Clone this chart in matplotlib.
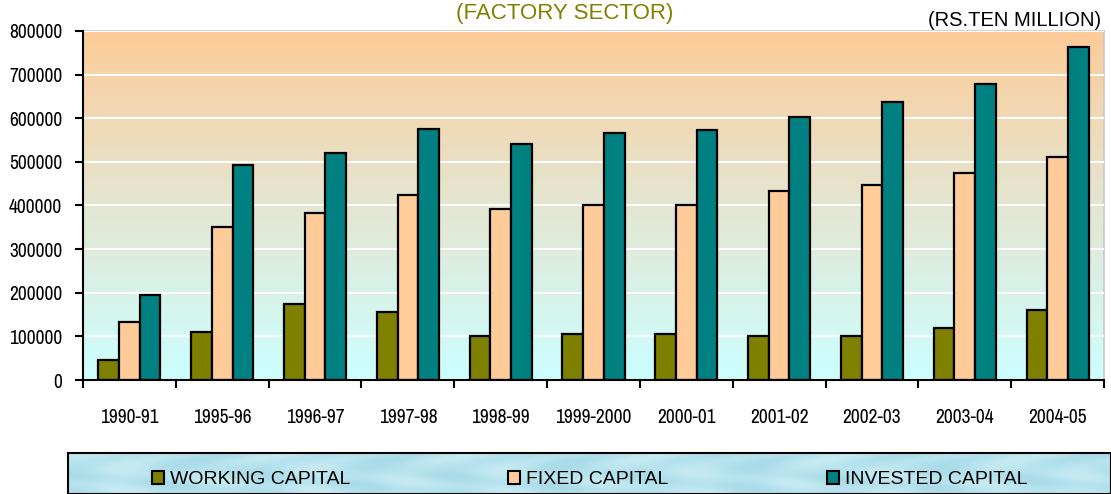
import numpy as np
import matplotlib
matplotlib.use("Agg")
import matplotlib.pyplot as plt
from matplotlib.colors import LinearSegmentedColormap
from matplotlib.patches import Rectangle
from matplotlib.transforms import ScaledTranslation

years = ["1990-91", "1995-96", "1996-97", "1997-98", "1998-99", "1999-2000",
         "2000-01", "2001-02", "2002-03", "2003-04", "2004-05"]
working = [46000, 110000, 175000, 156000, 100000, 105000, 105000, 101000, 100000, 119000, 161000]
fixed = [133000, 350000, 382000, 424000, 392000, 401000, 401000, 433000, 446000, 474000, 511000]
invested = [194000, 492000, 520000, 576000, 540000, 567000, 572000, 604000, 637000, 678000, 763000]
series_names = ["WORKING CAPITAL", "FIXED CAPITAL", "INVESTED CAPITAL"]
colors = ["#808000", "#FFCC99", "#008080"]

narrow = ["Archivo Narrow", "Liberation Sans", "DejaVu Sans"]
arial = ["Liberation Sans", "DejaVu Sans"]

W, H = 1111, 494
fig = plt.figure(figsize=(W / 100, H / 100), dpi=100)
ax = fig.add_axes([83 / W, 1 - 380 / H, (1104 - 83) / W, (380 - 31) / H])

n = len(years)
x = np.arange(n)
w = 0.223

# background gradient, peach at top to pale cyan at bottom
cmap = LinearSegmentedColormap.from_list("bg", ["#CCFFFF", "#E4E6D2", "#FDCB98"])
grad = np.linspace(0, 1, 256).reshape(-1, 1)
ax.imshow(grad, extent=(-0.5, n - 0.5, 0, 800000), origin="lower", aspect="auto",
          cmap=cmap, zorder=0)

for k, vals in enumerate([working, fixed, invested]):
    ax.bar(x + (k - 1) * w, vals, width=w, color=colors[k], edgecolor="black",
           linewidth=1.6, zorder=3, label=series_names[k])

ax.set_xlim(-0.5, n - 0.5)
ax.set_ylim(0, 800000)
ax.set_yticks(np.arange(0, 800001, 100000))
ax.set_yticklabels([str(v) for v in range(0, 800001, 100000)], family=narrow, fontsize=14)
ax.yaxis.grid(True, color="white", linewidth=1.5, zorder=1)
ax.set_axisbelow(False)
shift = ScaledTranslation(0, -4 / 100, fig.dpi_scale_trans)
for lab in ax.get_yticklabels():
    lab.set_transform(lab.get_transform() + shift)

ax.set_xticks(np.arange(-0.5, n, 1))
ax.set_xticklabels([])
ax.set_xticks(x, minor=True)
ax.set_xticklabels(years, minor=True, family=narrow, fontsize=14)
ax.tick_params(axis="x", which="major", length=6, width=1.5, direction="out")
ax.tick_params(axis="x", which="minor", length=0, pad=20)
ax.tick_params(axis="y", length=6, width=1.5, pad=9)

for side in ["left", "bottom"]:
    ax.spines[side].set_color("black")
    ax.spines[side].set_linewidth(1.5)
    ax.spines[side].set_zorder(5)
for side in ["top", "right"]:
    ax.spines[side].set_color("#C8C8C8")
    ax.spines[side].set_linewidth(1.2)

fig.text(565 / W, 1 - 19 / H, "(FACTORY SECTOR)", color="#808000", fontsize=16,
         family=arial, ha="center", va="baseline")
fig.text(1101 / W, 1 - 26 / H, "(RS.TEN MILLION)", fontsize=14.5,
         family=arial, ha="right", va="baseline")

# legend strip along the bottom with a soft water-like texture
lx0, ly0 = 68, 453
lax = fig.add_axes([lx0 / W, 0, (W - lx0) / W, (H - ly0) / H], zorder=-1)
gx, gy = np.meshgrid(np.linspace(0, 40, 600), np.linspace(0, 2, 40))
tex = 0.5 + 0.25 * np.sin(gx * 1.3 + 2 * np.sin(gy * 2.1)) * np.cos(gy * 3.0 + gx * 0.4)
tcmap = LinearSegmentedColormap.from_list("water", ["#9ED3E2", "#B6E3EE", "#D8F1F6"])
lax.imshow(tex, extent=(0, 1, 0, 1), aspect="auto", cmap=tcmap, vmin=0, vmax=1)
lax.set_xticks([])
lax.set_yticks([])
for s in lax.spines.values():
    s.set_linewidth(1.5)
    s.set_color("black")

leg_x = [152, 508, 827]
for k in range(3):
    fig.patches.append(Rectangle((leg_x[k] / W, 1 - 484 / H), 12 / W, 13 / H,
                                 transform=fig.transFigure, facecolor=colors[k],
                                 edgecolor="black", linewidth=1.5, zorder=2))
    fig.text((leg_x[k] + 18) / W, 1 - 484 / H, series_names[k], family=arial,
             fontsize=14, va="baseline", ha="left", zorder=3)

fig.savefig("out.png", dpi=100)
